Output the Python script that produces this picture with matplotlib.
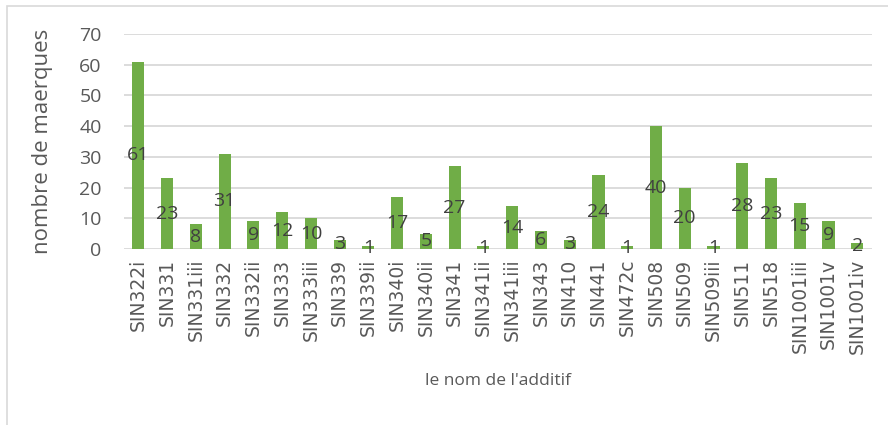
import matplotlib.pyplot as plt
from matplotlib.patches import Rectangle

# Data
additifs = ['SIN322i', 'SIN331', 'SIN331iii', 'SIN332', 'SIN332ii', 'SIN333', 'SIN333iii',
            'SIN339', 'SIN339ii', 'SIN340i', 'SIN340ii', 'SIN341', 'SIN341ii', 'SIN341iii',
            'SIN343', 'SIN410', 'SIN441', 'SIN472c', 'SIN508', 'SIN509', 'SIN509iii',
            'SIN511', 'SIN518', 'SIN1001iii', 'SIN1001v', 'SIN1001iv']
marques = [61, 23, 8, 31, 9, 12, 10, 3, 1, 17, 5, 27, 1, 14, 6, 3, 24, 1, 40, 20, 1,
           28, 23, 15, 9, 2]

plt.rcParams['font.family'] = ['Open Sans', 'DejaVu Sans']

fig = plt.figure(figsize=(8.88, 4.25), dpi=100)
ax = fig.add_axes([0.1396, 0.414, 0.842, 0.506])

# Chart frame
fig.patches.append(Rectangle((0.008, -0.01), 1.2, 0.995, transform=fig.transFigure,
                             fill=False, edgecolor='#D9D9D9', lw=1.2))

x = range(len(additifs))
bars = ax.bar(x, marques, width=0.42, color='#70AD47', zorder=3)
ax.bar_label(bars, labels=[str(v) for v in marques], label_type='center',
             fontsize=14, color='#404040', zorder=4)

ax.set_ylim(0, 70)
ax.set_yticks(range(0, 71, 10))
ax.set_xlim(-0.5, len(additifs) - 0.5)
ax.set_xticks(list(x))
ax.set_xticklabels(additifs, rotation=90, fontsize=13.5, color='#595959',
                   family=['DejaVu Sans'])
ax.tick_params(axis='y', labelsize=14, labelcolor='#595959', length=0, pad=16)
ax.tick_params(axis='x', length=0, pad=7)
ax.grid(axis='y', color='#D9D9D9', lw=1.3, zorder=0)
for s in ax.spines.values():
    s.set_visible(False)

ax.set_ylabel('nombre de maerques', fontsize=16, color='#595959', labelpad=19)
ax.set_xlabel("le nom de l'additif", fontsize=12.5, color='#595959', labelpad=14)

fig.savefig('out.png', dpi=100)
